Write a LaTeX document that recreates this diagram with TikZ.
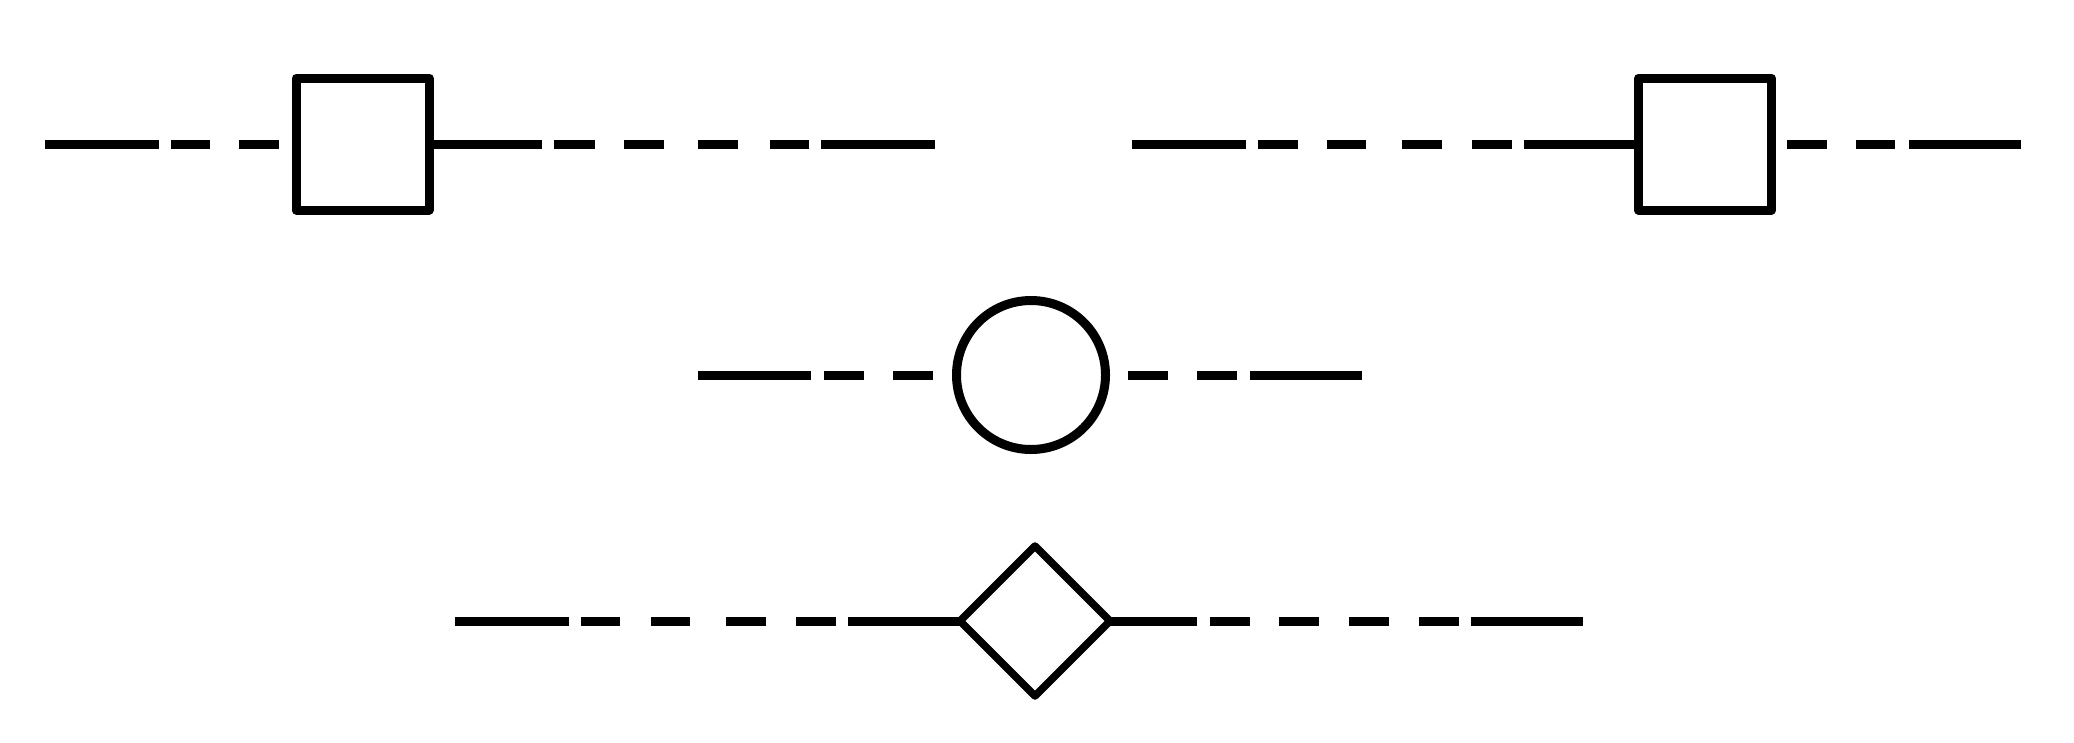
\documentclass[tikz,border=0pt]{standalone}
\usetikzlibrary{shapes.geometric}
\begin{document}
\begin{tikzpicture}[x=1pt,y=-1pt,
  seg/.style={line width=9pt,line cap=butt},
  boxnode/.style={draw,line width=9pt,line join=round,rectangle,inner sep=0pt,minimum width=133pt,minimum height=132pt},
  circnode/.style={draw,line width=9pt,circle,inner sep=0pt,minimum size=149pt},
  diamnode/.style={draw,line width=7.5pt,line join=round,diamond,aspect=1,inner sep=0pt,outer sep=0pt,minimum width=150pt,minimum height=150pt}]
\useasboundingbox (0,0) rectangle (2074,742);
% row 1 left
\node[boxnode] (b1) at (362.5,144) {};
\foreach \a/\b in {45/159,171/210,239/279,554/595,624/664,698/738,770/809,821/935}
  \draw[seg] (\a,144) -- (\b,144);
\coordinate (b1r) at (542,144);
\draw[seg] (b1.east) -- (b1r);
% row 1 right
\node[boxnode] (b2) at (1705,144) {};
\foreach \a/\b in {1132/1246,1258/1298,1327/1366,1402/1442,1472/1512,1787/1827,1856/1895,1909/2021}
  \draw[seg] (\a,144) -- (\b,144);
\coordinate (b2l) at (1524,144);
\draw[seg] (b2l) -- (b2.west);
% row 2
\node[circnode] (c) at (1031,375) {};
\foreach \a/\b in {698/811,824/864,893/933,1128/1168,1197/1237,1250/1362}
  \draw[seg] (\a,375) -- (\b,375);
% row 3
\node[diamnode] (d) at (1035,621) {};
\foreach \a/\b in {455/569,581/620,651/690,726/766,796/836,1210/1250,1279/1319,1349/1389,1419/1459,1471/1583}
  \draw[seg] (\a,621) -- (\b,621);
\coordinate (dl) at (848,621);
\coordinate (dr) at (1197,621);
\draw[seg] (dl) -- (d.west);
\draw[seg] (d.east) -- (dr);
\end{tikzpicture}
\end{document}
